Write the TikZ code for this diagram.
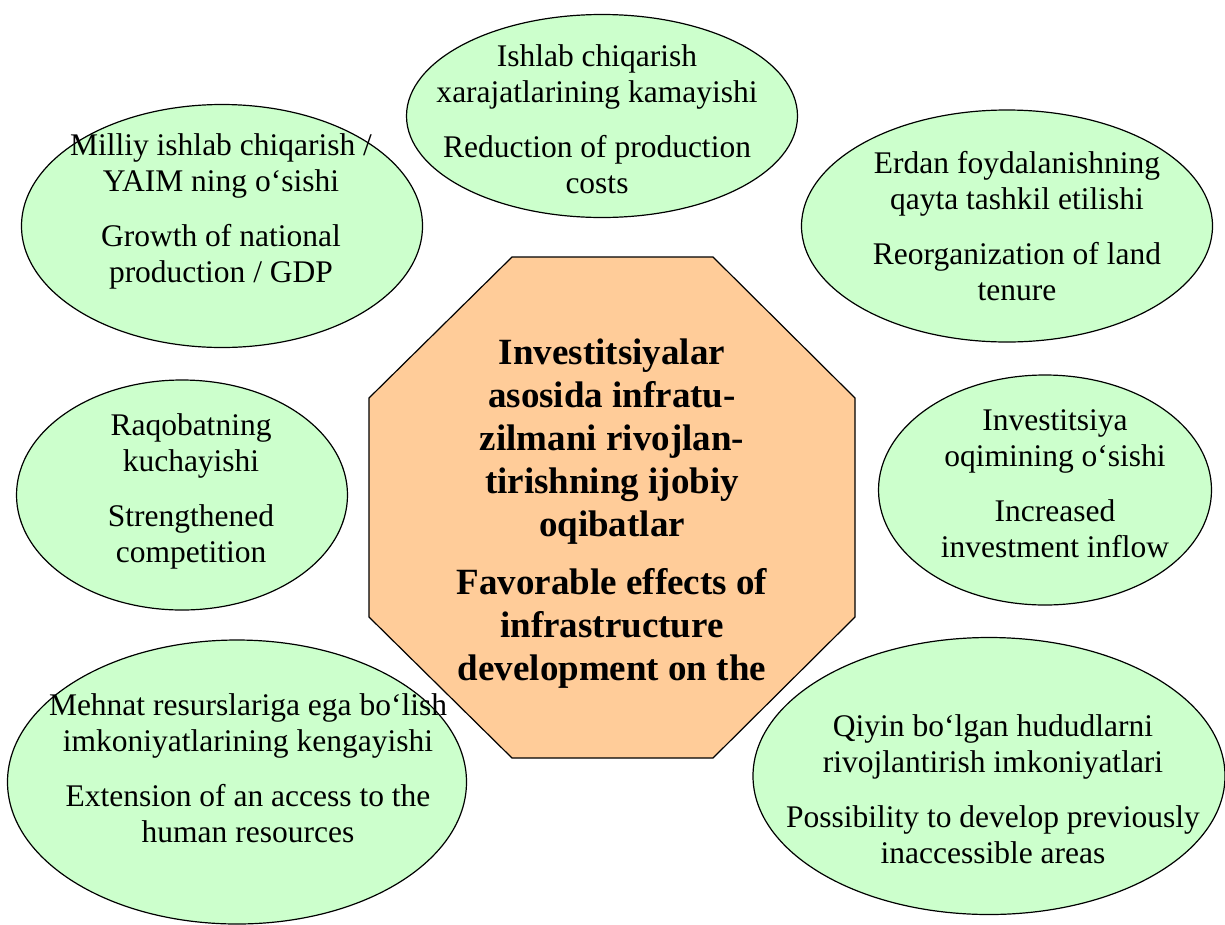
\documentclass[tikz,border=0pt]{standalone}
\usepackage{fontspec}
\setmainfont{Liberation Serif}
\usetikzlibrary{shapes.geometric}
\definecolor{bubblegreen}{HTML}{CCFFCC}
\definecolor{hubpeach}{HTML}{FFCC99}

\begin{document}
\begin{tikzpicture}[x=1pt,y=-1pt,
    bubble/.style={ellipse,draw,fill=bubblegreen,line width=1.2pt,inner sep=0pt},
    txt/.style={align=center,anchor=base,inner sep=0pt,font=\fontsize{31.5}{36}\selectfont},
    hubtxt/.style={align=center,anchor=base,inner sep=0pt,font=\fontsize{37}{43}\selectfont\bfseries}]
\useasboundingbox (0,0) rectangle (1225,924);
%
% the octagon in the middle
\draw[fill=hubpeach,line width=1.2pt] (512,257) -- (713,257) -- (855,398) -- (855,617)
      -- (713,758) -- (512,758) -- (369,617) -- (369,398) -- cycle;
%
% the effects round it
        \node [bubble,minimum width=391pt,minimum height=203pt] at (602,116) (costs) {};
     \node [bubble,minimum width=401pt,minimum height=243pt] at (222,226) (gdp) {};
          \node [bubble,minimum width=411pt,minimum height=232pt] at (1007,226) (land) {};
     \node [bubble,minimum width=331pt,minimum height=230pt] at (182,495) (compet) {};
          \node [bubble,minimum width=333pt,minimum height=230pt] at (1045,490) (inflow) {};
     \node [bubble,minimum width=459pt,minimum height=284pt] at (237,782) (labour) {};
          \node [bubble,minimum width=472pt,minimum height=277pt] at (989,776) (areas) {};
%
% texts, placed by the baseline of their last line
\node [hubtxt] at (612,680) (hub) {Investitsiyalar\\asosida infratu-\\zilmani rivojlan-\\tirishning ijobiy\\oqibatlar\\[15pt]Favorable effects of\\infrastructure\\development on the};
\node [txt] at (597,193) (costs text) {Ishlab chiqarish\\xarajatlarining kamayishi\\[19pt]Reduction of production\\costs};
\node [txt] at (221,282) (gdp text) {Milliy ishlab chiqarish /\\YAIM ning o‘sishi\\[19pt]Growth of national\\production / GDP};
\node [txt] at (1017,300) (land text) {Erdan foydalanishning\\qayta tashkil etilishi\\[19pt]Reorganization of land\\tenure};
\node [txt] at (191,562) (compet text) {Raqobatning\\kuchayishi\\[19pt]Strengthened\\competition};
\node [txt] at (1055,557) (inflow text) {Investitsiya\\oqimining o‘sishi\\[19pt]Increased\\investment inflow};
\node [txt] at (248,842) (labour text) {Mehnat resurslariga ega bo‘lish\\imkoniyatlarining kengayishi\\[19pt]Extension of an access to the\\human resources};
\node [txt] at (993,863) (areas text) {Qiyin bo‘lgan hududlarni\\rivojlantirish imkoniyatlari\\[19pt]Possibility to develop previously\\inaccessible areas};

\end{tikzpicture}
\end{document}
